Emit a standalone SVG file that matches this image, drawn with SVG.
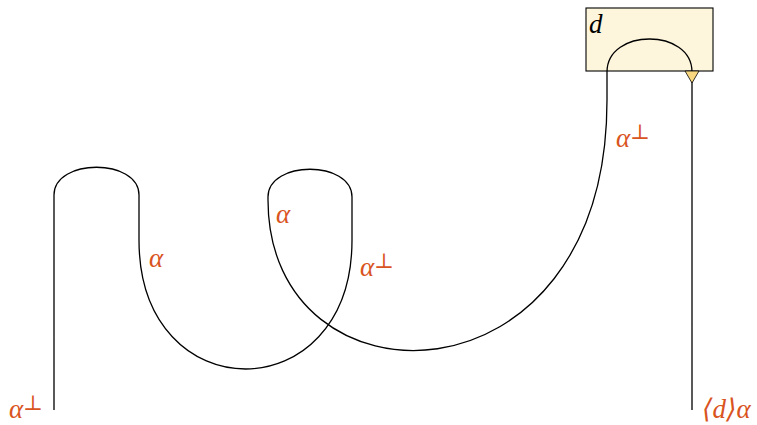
<svg xmlns="http://www.w3.org/2000/svg" width="757" height="425" viewBox="0 0 757 425">
<style>
.w{fill:none;stroke:#000;stroke-width:1.3}
.l{font-family:"Liberation Serif","DejaVu Serif",serif;font-style:italic;font-size:27px;fill:#d9541e}
.s{font-style:normal;font-size:21px}
.d{font-family:"Liberation Serif","DejaVu Serif",serif;font-style:italic;font-size:27px;fill:#000}
</style>
<rect width="757" height="425" fill="#fff"/>
<g id="box">
<rect x="586" y="8" width="127" height="63" fill="#fdf5dc" stroke="#000" stroke-width="1.1"/>
<text class="d" x="589" y="33">d</text>
</g>
<g id="connectors">
<path class="w" d="M54,410 V195 C54,158 139,158 139,195 V240 C139,412 352,412 352,240 V197 C352,160 268,160 268,197 V200 C268,415 607,415 607,100 V72 C607,28 692,28 692,72 V410"/>
</g>
<g id="marker">
<polygon points="685,71 699,71 692,83" fill="#f8d77e" stroke="#000" stroke-width="0.8"/>
</g>
<g id="labels">
<text class="l" x="9" y="418">α<tspan class="s" dy="-8">⊥</tspan></text>
<text class="l" x="149" y="267">α</text>
<text class="l" x="276" y="223">α</text>
<text class="l" x="360" y="276">α<tspan class="s" dy="-8">⊥</tspan></text>
<text class="l" x="616" y="147">α<tspan class="s" dy="-8">⊥</tspan></text>
<text class="l" x="702" y="418">⟨d⟩α</text>
</g>
</svg>
